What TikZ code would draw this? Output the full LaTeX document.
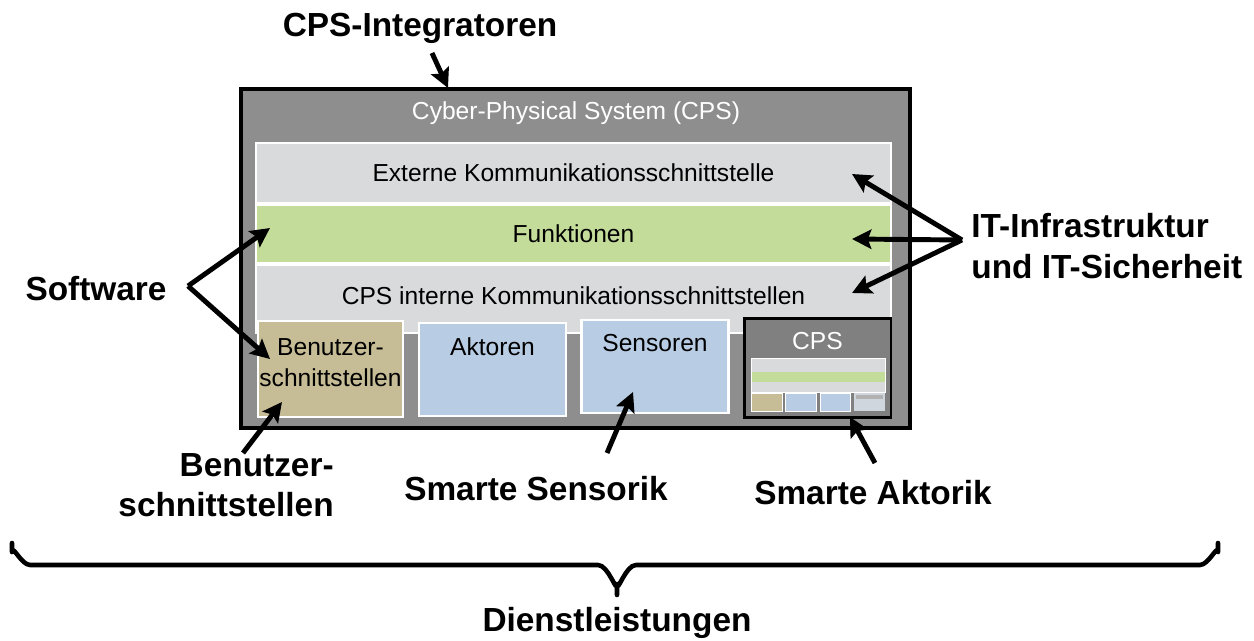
\documentclass[tikz,border=0pt]{standalone}
\usepackage{fontspec}
\setmainfont{Liberation Sans}
\usetikzlibrary{arrows.meta,positioning}

\definecolor{cpsgray}{RGB}{142,142,142}
\definecolor{bandgray}{RGB}{217,218,219}
\definecolor{bandgreen}{RGB}{196,220,154}
\definecolor{uitan}{RGB}{198,189,150}
\definecolor{hwblue}{RGB}{184,204,228}
\definecolor{minigray}{RGB}{128,128,128}

\tikzset{
  tag/.style={font=\fontsize{19}{23}\selectfont\bfseries, align=center, inner sep=0pt},
  bandtext/.style={font=\fontsize{14}{17.5}\selectfont, align=center, inner sep=0pt},
  band/.style={bandtext, draw=white, line width=1pt, minimum width=12.7cm},
  hwbox/.style={draw=white, line width=1.2pt, fill=hwblue, minimum width=2.94cm, minimum height=1.86cm},
  pointer/.style={line width=2.8pt, -{Stealth[length=11pt,width=11pt,inset=2pt]}},
}

\begin{document}
\begin{tikzpicture}[x=0.02cm, y=-0.02cm]

  \useasboundingbox (0,0) rectangle (1254,641);

  % the cyber-physical system
  \node[draw=black, line width=2.3pt, fill=cpsgray, minimum width=13.38cm, minimum height=6.78cm] (cps) at (575.5,258.5) {};
  \node[bandtext, text=white] (cpstitle) at (576,113) {Cyber-Physical System (CPS)};

  \node[band, fill=bandgray, minimum height=1.36cm] (intern) at (573.5,299) {};
  \node[bandtext] at (573.5,296) {CPS interne Kommunikationsschnittstellen};
  \node[band, fill=bandgray, minimum height=1.2cm] (extern) at (573.5,173) {Externe Kommunikationsschnittstelle};
  \node[band, fill=bandgreen, minimum height=1.16cm] (funk) at (573.5,234) {Funktionen};

  % bottom row
  \node[hwbox, fill=uitan, minimum width=2.9cm, minimum height=1.92cm] (ui) at (330.5,369) {};
  \node[bandtext] at (330.5,363) {Benutzer-\\schnittstellen};
  \node[hwbox] (akt) at (492.5,369.5) {};
  \node[bandtext] at (492.5,347) {Aktoren};
  \node[hwbox] (sens) at (655,366.5) {};
  \node[bandtext] at (655,343) {Sensoren};

  % small cps inside
  \node[draw=black, line width=1.7pt, fill=minigray, minimum width=2.94cm, minimum height=2cm] (mini) at (817.5,368) {};
  \node[bandtext, text=white] at (817.5,341) {CPS};
  \draw[white, line width=0.4pt, fill=bandgray] (751,358) rectangle (885,392);
  \fill[bandgreen] (751.5,372) rectangle (884.5,382);
  \draw[white, line width=0.4pt, fill=uitan] (751,393) rectangle (782,411);
  \draw[white, line width=0.4pt, fill=hwblue] (785,393) rectangle (816,411);
  \draw[white, line width=0.4pt, fill=hwblue] (820,393) rectangle (850,411);
  \fill[bandgray!70!hwblue] (854,393) rectangle (885,411);
  \fill[gray!60] (856,395) rectangle (883,399);

  % outside labels
  \node[tag] (integ) at (420,28) {CPS-Integratoren};
  \node[tag] (soft) at (96,289) {Software};
  \node[tag, align=left, anchor=west] (itinf) at (971,246) {IT-Infrastruktur\\und IT-Sicherheit};
  \node[tag, align=right, anchor=east] (uilab) at (334,485) {Benutzer-\\schnittstellen};
  \node[tag] (sensorik) at (536,489) {Smarte Sensorik};
  \node[tag] (aktorik) at (873,493) {Smarte Aktorik};
  \node[tag] (dienst) at (617,623) {Dienstleistungen};

  % arrow tips
  \coordinate (tipInteg) at (448,88);
  \coordinate (tipFunkL) at (270,228);
  \coordinate (tipUi) at (270,359);
  \coordinate (tipExt) at (852,174);
  \coordinate (tipFunkR) at (852,239);
  \coordinate (tipInt) at (852,293);
  \coordinate (tipUiLow) at (282,402);
  \coordinate (tipSens) at (633,392);
  \coordinate (tipMini) at (850,417);

  \draw[pointer] ([shift={(12,25)}]integ.center) -- (tipInteg);
  \draw[pointer] ([shift={(92,-3)}]soft.center) -- (tipFunkL);
  \draw[pointer] ([shift={(92,-3)}]soft.center) -- (tipUi);
  \draw[pointer] ([shift={(-9,-6)}]itinf.west) -- (tipExt);
  \draw[pointer] ([shift={(-9,-6)}]itinf.west) -- (tipFunkR);
  \draw[pointer] ([shift={(-9,-6)}]itinf.west) -- (tipInt);
  \draw[pointer] ([shift={(-91,-32)}]uilab.east) -- (tipUiLow);
  \draw[pointer] ([shift={(71,-36)}]sensorik.center) -- (tipSens);
  \draw[pointer] ([shift={(2,-30)}]aktorik.center) -- (tipMini);

  % brace
  \draw[line width=2.6pt, line cap=round, line join=round]
    (12,543) -- (12,552) to[out=90,in=180] (30,565) -- (598,565) to[out=0,in=-90] (617,584) -- (617,595)
    (617,584) to[out=-90,in=180] (636,565) -- (1200,565) to[out=0,in=90] (1218,552) -- (1218,543);

\end{tikzpicture}
\end{document}
